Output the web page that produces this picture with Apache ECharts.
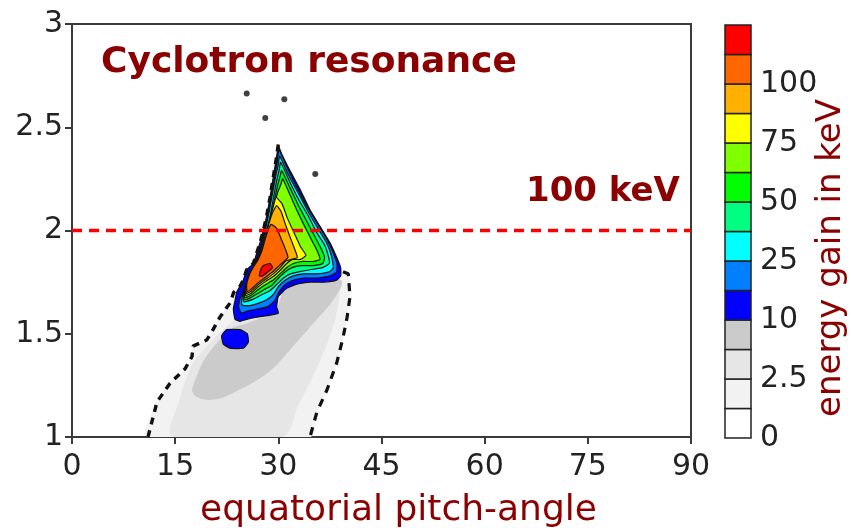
<!DOCTYPE html>
<html>
<head>
<meta charset="utf-8">
<script src="https://cdn.jsdelivr.net/npm/echarts@6/dist/echarts.min.js"></script>
<style>
  html, body { margin: 0; padding: 0; background: #ffffff; }
  #chart { width: 851px; height: 528px; }
</style>
</head>
<body>
<div id="chart"></div>
<script>
// Colour scale of energy gain (keV), lowest band first
const levelColors = ['#ffffff', '#f2f2f2', '#e6e6e6', '#cbcbcb', '#0000ff', '#0080ff', '#00ffff',
                     '#00ff80', '#00ff00', '#80ff00', '#ffff00', '#ffb000', '#ff6600', '#ff0000'];
const colorbarTickLabels = ['0', '2.5', '10', '25', '50', '75', '100'];

// Axis ticks
const pitchTicks = [0, 15, 30, 45, 60, 75, 90];
const lTicks = [1, 1.5, 2, 2.5, 3];
const resonanceL = 2;

// Zero-gain contour [pitch angle (deg), L]
const zeroContourLeft = [[11.05, 1.0], [12.36, 1.17], [14.25, 1.26], [16.43, 1.33], [17.45, 1.39], [17.6, 1.44],
  [19.6, 1.47], [20.5, 1.52], [21.5, 1.58], [23.0, 1.65], [23.5, 1.70], [24.43, 1.73], [24.91, 1.76],
  [25.39, 1.81], [26.36, 1.84], [26.85, 1.89], [27.33, 1.94], [27.82, 2.0], [28.3, 2.07], [28.79, 2.16],
  [29.27, 2.26], [29.76, 2.36], [30.0, 2.42]];
const zeroContourTop = [[31.69, 2.29], [34.6, 2.10], [37.51, 1.94], [39.06, 1.82]];
const zeroContourRight = [[39.4, 1.80], [40.17, 1.79], [40.42, 1.68], [40.0, 1.58], [39.4, 1.48], [38.5, 1.36],
  [37.1, 1.23], [35.6, 1.12], [34.6, 1.0]];

// Grey bands (low gain)
const band2 = [[14.7, 1.0], [15.7, 1.19], [16.7, 1.29], [17.6, 1.36], [19.6, 1.44], [22.0, 1.52], [24.0, 1.58],
  [25.9, 1.64], [29, 1.66], [32, 1.70], [35, 1.72], [38.5, 1.76], [38.9, 1.72], [38.6, 1.62], [37.4, 1.48],
  [35.4, 1.32], [33.0, 1.16], [30.5, 1.0]];
const band3 = [[17.6, 1.21], [20.5, 1.18], [24.4, 1.23], [28.8, 1.32], [32.7, 1.46], [35.6, 1.57], [37.9, 1.66],
  [39.3, 1.75], [38, 1.77], [34, 1.75], [31, 1.72], [30.2, 1.66], [29.5, 1.60], [27, 1.57], [25.4, 1.55],
  [23.5, 1.53], [21.5, 1.47], [19.5, 1.39], [18.2, 1.30]];

// Coloured bands (resonant gain)
const band4 = [[30.0, 2.41], [30.48, 2.37], [31.69, 2.29], [33.15, 2.20], [34.6, 2.10], [36.06, 2.02], [37.51, 1.94],
  [38.48, 1.87], [39.06, 1.82], [39.06, 1.78], [38.48, 1.76], [36.54, 1.75], [34.6, 1.75], [32.66, 1.74],
  [31.21, 1.72], [30.0, 1.68], [29.76, 1.63], [30.0, 1.60], [28.79, 1.59], [26.85, 1.58], [25.39, 1.57],
  [24.43, 1.56], [23.7, 1.57], [23.46, 1.62], [23.7, 1.66], [23.94, 1.70], [24.43, 1.73], [24.91, 1.76],
  [25.39, 1.81], [26.36, 1.84], [26.85, 1.89], [27.33, 1.94], [27.82, 2.0], [28.3, 2.07], [28.79, 2.16],
  [29.27, 2.26], [29.76, 2.36]];
const band4Island = [[22.49, 1.52], [24.43, 1.52], [25.49, 1.50], [25.64, 1.46], [24.91, 1.43], [22.97, 1.43],
  [22.0, 1.45], [21.76, 1.49]];
const band5 = [[30.1, 2.39], [31.21, 2.31], [32.66, 2.21], [34.12, 2.12], [35.57, 2.04], [37.02, 1.96], [37.99, 1.89],
  [38.53, 1.84], [38.48, 1.80], [37.51, 1.78], [35.57, 1.77], [33.63, 1.77], [32.28, 1.76], [31.02, 1.74],
  [30.05, 1.70], [29.47, 1.66], [28.4, 1.63], [26.85, 1.62], [25.49, 1.61], [24.62, 1.60], [24.23, 1.63],
  [24.43, 1.67], [24.81, 1.70], [25.3, 1.74], [25.69, 1.79], [26.46, 1.83], [27.04, 1.88], [27.53, 1.93],
  [28.01, 2.0], [28.5, 2.07], [28.98, 2.16], [29.47, 2.26], [29.85, 2.34]];
const band6 = [[30.19, 2.36], [31.45, 2.27], [32.91, 2.18], [34.36, 2.09], [35.76, 2.01], [37.02, 1.94], [37.7, 1.88],
  [37.99, 1.82], [37.41, 1.80], [35.57, 1.79], [33.63, 1.79], [32.18, 1.78], [31.02, 1.76], [30.05, 1.73],
  [29.27, 1.69], [28.3, 1.665], [26.85, 1.645], [25.49, 1.635], [24.7, 1.64], [24.75, 1.68], [25.1, 1.72],
  [25.6, 1.77], [26.3, 1.82], [27.0, 1.87], [27.55, 1.93], [28.1, 2.0], [28.6, 2.08], [29.1, 2.17],
  [29.6, 2.26], [30.0, 2.32]];
const band7 = [[30.34, 2.33], [31.6, 2.24], [32.95, 2.15], [34.36, 2.07], [35.57, 1.99], [36.73, 1.93], [37.32, 1.87],
  [37.41, 1.84], [36.44, 1.82], [34.6, 1.81], [32.95, 1.80], [31.74, 1.79], [30.77, 1.77], [29.8, 1.74],
  [28.83, 1.71], [27.62, 1.69], [26.2, 1.665], [24.95, 1.655], [24.9, 1.69], [25.3, 1.74], [25.8, 1.79],
  [26.5, 1.83], [27.1, 1.88], [27.65, 1.93], [28.2, 1.99], [28.75, 2.06], [29.25, 2.15], [29.75, 2.24], [30.1, 2.29]];
const band8 = [[30.48, 2.29], [31.65, 2.21], [32.95, 2.12], [34.21, 2.04], [35.33, 1.97], [36.25, 1.91], [36.73, 1.87],
  [36.44, 1.84], [35.09, 1.83], [33.25, 1.83], [31.99, 1.82], [31.02, 1.80], [30.05, 1.77], [29.08, 1.735],
  [28.0, 1.715], [27.0, 1.695], [26.0, 1.675], [25.05, 1.665], [25.0, 1.70], [25.4, 1.75], [25.9, 1.79],
  [26.6, 1.835], [27.2, 1.88], [27.75, 1.935], [28.3, 1.99], [28.85, 2.06], [29.4, 2.14], [29.9, 2.22], [30.24, 2.26]];
const band9 = [[30.63, 2.25], [31.6, 2.18], [32.66, 2.10], [33.83, 2.02], [34.89, 1.95], [35.67, 1.90], [36.06, 1.86],
  [35.09, 1.85], [33.44, 1.85], [32.18, 1.84], [31.21, 1.82], [30.24, 1.79], [29.27, 1.76], [28.0, 1.735],
  [27.0, 1.712], [26.0, 1.685], [25.15, 1.675], [25.1, 1.71], [25.5, 1.76], [26.0, 1.80], [26.7, 1.84],
  [27.3, 1.885], [27.85, 1.94], [28.4, 2.0], [28.95, 2.07], [29.45, 2.13], [29.95, 2.19], [30.34, 2.22]];
const band10 = [[29.66, 2.16], [30.53, 2.13], [31.31, 2.06], [32.28, 1.99], [33.25, 1.92], [34.02, 1.88], [33.25, 1.86],
  [32.08, 1.86], [31.21, 1.84], [30.34, 1.81], [29.37, 1.78], [28.0, 1.75], [27.0, 1.725], [26.0, 1.695],
  [25.25, 1.685], [25.2, 1.72], [25.6, 1.77], [26.1, 1.81], [26.8, 1.845], [27.4, 1.89], [27.95, 1.95],
  [28.5, 2.02], [29.05, 2.09], [29.3, 2.12]];
const band11 = [[29.76, 2.12], [30.43, 2.09], [31.02, 2.03], [31.69, 1.97], [32.37, 1.91], [32.76, 1.87], [31.89, 1.86],
  [31.02, 1.85], [30.24, 1.82], [29.27, 1.79], [28.0, 1.76], [27.0, 1.735], [26.0, 1.705], [25.35, 1.695],
  [25.3, 1.73], [25.7, 1.78], [26.2, 1.815], [26.9, 1.85], [27.5, 1.895], [28.05, 1.96], [28.6, 2.03],
  [29.2, 2.09]];
const band12 = [[28.98, 2.03], [29.76, 2.01], [30.53, 1.95], [31.02, 1.91], [31.4, 1.87], [30.82, 1.85], [30.14, 1.83],
  [29.2, 1.80], [28.0, 1.77], [27.0, 1.745], [26.0, 1.715], [25.45, 1.705], [25.4, 1.74], [25.8, 1.785],
  [26.3, 1.82], [27.0, 1.855], [27.6, 1.90], [28.15, 1.965], [28.6, 2.01]];
const band13 = [[27.82, 1.83], [28.79, 1.84], [29.17, 1.82], [28.5, 1.80], [27.72, 1.78], [27.24, 1.78], [27.43, 1.81]];

// Isolated points on the zero contour
const strayPoints = [[25.4, 2.664], [30.87, 2.635], [28.1, 2.545], [35.37, 2.274]];

// Filled regions, painted from the lowest band upward
const contourRegions = [
  { level: 1, pts: zeroContourLeft.concat(zeroContourTop, zeroContourRight) },
  { level: 2, pts: band2 },
  { level: 3, pts: band3 },
  { level: 4, pts: band4 },
  { level: 4, pts: band4Island },
  { level: 5, pts: band5 },
  { level: 6, pts: band6 },
  { level: 7, pts: band7 },
  { level: 8, pts: band8 },
  { level: 9, pts: band9 },
  { level: 10, pts: band10 },
  { level: 11, pts: band11 },
  { level: 12, pts: band12 },
  { level: 13, pts: band13 }
];

const FONT = 'DejaVu Sans';
const TITLE_RED = '#8b0000';
const AXIS_GREY = '#3a3a3a';

const chart = echarts.init(document.getElementById('chart'), null, { renderer: 'canvas' });

chart.setOption({
  animation: false,
  backgroundColor: '#ffffff',
  title: [
    { text: 'Cyclotron resonance', left: 101, top: 45, padding: 0,
      textStyle: { fontFamily: FONT, fontWeight: 'bold', fontSize: 36, color: TITLE_RED } },
    { text: '100 keV', left: 526, top: 175, padding: 0,
      textStyle: { fontFamily: FONT, fontWeight: 'bold', fontSize: 34, color: TITLE_RED } }
  ],
  graphic: [
    {
      // colour bar caption, reading upward
      type: 'text', x: 831, y: 258, rotation: Math.PI / 2,
      style: { text: 'energy gain in keV', fill: TITLE_RED, fontFamily: FONT, fontSize: 34,
               align: 'center', verticalAlign: 'middle' }
    }
  ],
  grid: [
    { left: 72, top: 24, width: 619, height: 413, show: true, borderColor: AXIS_GREY, borderWidth: 2,
      backgroundColor: 'transparent', containLabel: false, outerBoundsMode: 'none' },
    { left: 725, top: 25, width: 26, height: 413, containLabel: false, outerBoundsMode: 'none' }
  ],
  xAxis: [
    {
      gridIndex: 0, type: 'value', min: pitchTicks[0], max: pitchTicks[pitchTicks.length - 1], interval: 15,
      name: 'equatorial pitch-angle', nameLocation: 'middle', nameGap: 56,
      nameTextStyle: { fontFamily: FONT, fontSize: 36, color: TITLE_RED, padding: [0, 0, 0, 34] },
      axisLine: { lineStyle: { color: AXIS_GREY, width: 2 } },
      axisTick: { length: 7, lineStyle: { color: AXIS_GREY, width: 2 } },
      axisLabel: { fontFamily: FONT, fontSize: 30, color: '#222', margin: 15 },
      splitLine: { show: false }
    },
    { gridIndex: 1, type: 'value', min: 0, max: 1, show: false }
  ],
  yAxis: [
    {
      gridIndex: 0, type: 'value', min: lTicks[0], max: lTicks[lTicks.length - 1], interval: 0.5,
      axisLine: { lineStyle: { color: AXIS_GREY, width: 2 } },
      axisTick: { length: 7, lineStyle: { color: AXIS_GREY, width: 2 } },
      axisLabel: { fontFamily: FONT, fontSize: 30, color: '#222', margin: 9 },
      splitLine: { show: false }
    },
    {
      gridIndex: 1, type: 'value', position: 'right', min: 0, max: levelColors.length, interval: 2,
      axisLine: { show: false }, axisTick: { show: false }, splitLine: { show: false },
      axisLabel: {
        fontFamily: FONT, fontSize: 30, color: '#222', margin: 9,
        formatter: v => (colorbarTickLabels[v / 2] !== undefined ? colorbarTickLabels[v / 2] : '')
      }
    }
  ],
  series: [
    {
      // filled contour bands
      type: 'custom', xAxisIndex: 0, yAxisIndex: 0, clip: true, z: 2,
      data: contourRegions.map((r, i) => [i, r.level]),
      renderItem: (params, api) => {
        const r = contourRegions[params.dataIndex];
        const coloured = r.level >= 4;
        return {
          type: 'polygon',
          shape: { points: r.pts.map(p => api.coord(p)), smooth: coloured ? 0.15 : 0.35 },
          style: { fill: levelColors[r.level], stroke: coloured ? '#111' : null, lineWidth: coloured ? 1.2 : 0 }
        };
      }
    },
    {
      // zero contour, left branch up the resonance wedge
      type: 'line', xAxisIndex: 0, yAxisIndex: 0, data: zeroContourLeft, showSymbol: false, z: 4,
      lineStyle: { color: '#111', width: 3.4, type: [7, 6] }
    },
    {
      // zero contour, right branch
      type: 'line', xAxisIndex: 0, yAxisIndex: 0, data: zeroContourRight, showSymbol: false, z: 4,
      lineStyle: { color: '#111', width: 3.2, type: [8, 7] }
    },
    {
      type: 'scatter', xAxisIndex: 0, yAxisIndex: 0, data: strayPoints, symbolSize: 6, z: 4,
      itemStyle: { color: '#111' }
    },
    {
      // resonance level at L = 2
      type: 'line', xAxisIndex: 0, yAxisIndex: 0,
      data: [[pitchTicks[0], resonanceL], [pitchTicks[pitchTicks.length - 1], resonanceL]],
      showSymbol: false, z: 5,
      lineStyle: { color: '#ff0000', width: 3.6, type: [10, 7] }
    },
    {
      // colour bar boxes
      type: 'custom', xAxisIndex: 1, yAxisIndex: 1,
      data: levelColors.map((c, i) => [0, i]),
      renderItem: (params, api) => {
        const i = api.value(1);
        const p0 = api.coord([0, i]);
        const p1 = api.coord([1, i + 1]);
        return {
          type: 'rect',
          shape: { x: p0[0], y: p1[1], width: p1[0] - p0[0], height: p0[1] - p1[1] },
          style: { fill: levelColors[i], stroke: '#222', lineWidth: 1.5 }
        };
      }
    }
  ]
});
</script>
</body>
</html>
